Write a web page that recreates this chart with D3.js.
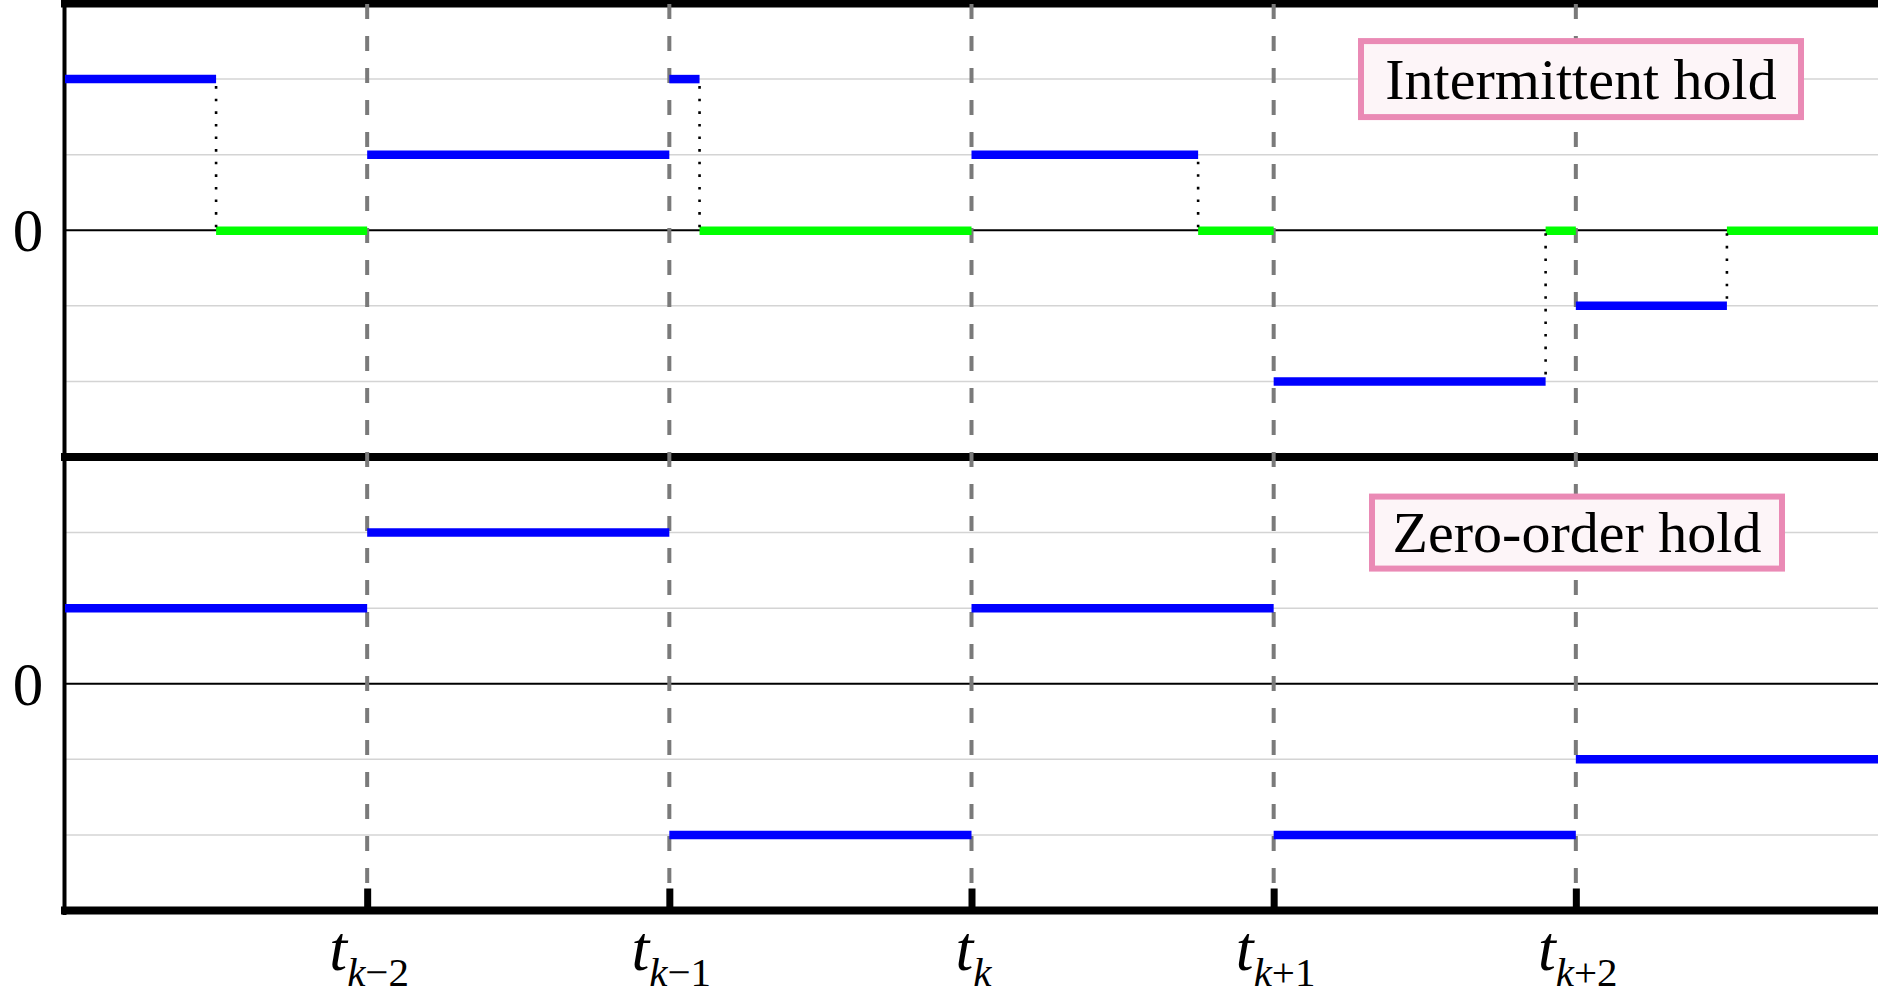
<!DOCTYPE html>
<html>
<head>
<meta charset="utf-8">
<script src="https://cdn.jsdelivr.net/npm/d3@7"></script>
<style>
  html, body { margin: 0; padding: 0; background: #fff; }
  svg { display: block; }
</style>
</head>
<body>
<svg id="chart" width="1890" height="1004"></svg>
<script>
// ---- data ----
const sampleTimes = [1, 2, 3, 4, 5];                 // t_{k-2} ... t_{k+2}
const tickSubs = ["k\u22122", "k\u22121", "k", "k+1", "k+2"];
const intervalStarts = [0, 1, 2, 3, 4, 5];
const zohValues = [1, 2, -2, 1, -2, -1];             // zero-order hold levels
const holdValues = [2, 1, 2, 1, -2, -1];             // intermittent hold levels
const holdDurations = [0.5, 1, 0.1, 0.75, 0.9, 0.5]; // fraction of period held
const gridLevels = [-2, -1, 1, 2];
const panelTitles = ["Intermittent hold", "Zero-order hold"];

// ---- layout ----
const svg = d3.select("#chart");
const x = d3.scaleLinear().domain([0, 6]).range([65, 1878]);
const yTop = d3.scaleLinear().domain([-3, 3]).range([457, 3.5]);
const yBot = d3.scaleLinear().domain([-3, 3]).range([910.5, 457]);
const serif = "'Liberation Serif', 'Times New Roman', serif";
const BLUE = "#0000ff", GREEN = "#00ff00";

function panelBase(y) {
  const g = svg.append("g");
  g.selectAll("line.grid").data(gridLevels).join("line")
    .attr("x1", x(0)).attr("x2", x(6))
    .attr("y1", d => y(d)).attr("y2", d => y(d))
    .attr("stroke", "#d4d4d4").attr("stroke-width", 1.5);
  g.append("line")
    .attr("x1", x(0)).attr("x2", x(6))
    .attr("y1", y(0)).attr("y2", y(0))
    .attr("stroke", "#000").attr("stroke-width", 1.8);
  g.append("text")
    .attr("x", 28).attr("y", y(0) + 21)
    .attr("text-anchor", "middle")
    .attr("font-family", serif).attr("font-size", 61)
    .text("0");
}
panelBase(yTop);
panelBase(yBot);

// frame lines
svg.append("line").attr("x1", 61).attr("x2", x(6)).attr("y1", yTop(3)).attr("y2", yTop(3))
  .attr("stroke", "#000").attr("stroke-width", 8);
svg.append("line").attr("x1", 61).attr("x2", x(6)).attr("y1", yTop(-3)).attr("y2", yTop(-3))
  .attr("stroke", "#000").attr("stroke-width", 8);
svg.append("line").attr("x1", x(0) - 0.5).attr("x2", x(0) - 0.5).attr("y1", 0).attr("y2", 915)
  .attr("stroke", "#000").attr("stroke-width", 4);

// dashed verticals
svg.selectAll("line.vdash").data(sampleTimes).join("line")
  .attr("x1", d => x(d)).attr("x2", d => x(d))
  .attr("y1", 4).attr("y2", yBot(-3))
  .attr("stroke", "#7a7a7a").attr("stroke-width", 4)
  .attr("stroke-dasharray", "15,17");

// bottom axis with inward ticks
const axis = d3.axisBottom(x).tickValues(sampleTimes).tickSizeInner(-22).tickSizeOuter(0).tickFormat("");
const ag = svg.append("g").attr("transform", `translate(0,${yBot(-3)})`).call(axis);
ag.select(".domain").remove();
ag.selectAll(".tick line").attr("stroke", "#000").attr("stroke-width", 7);
svg.append("line").attr("x1", 61).attr("x2", x(6)).attr("y1", yBot(-3)).attr("y2", yBot(-3))
  .attr("stroke", "#000").attr("stroke-width", 8);

// tick labels
const lab = svg.selectAll("text.tl").data(sampleTimes).join("text")
  .attr("x", d => x(d) + 2).attr("y", 970)
  .attr("text-anchor", "middle")
  .attr("font-family", serif);
lab.append("tspan").attr("font-size", 64).attr("font-style", "italic").text("t");
lab.append("tspan").attr("font-size", 41).attr("font-style", "italic").attr("dy", 16)
  .text((d, i) => tickSubs[i].charAt(0));
lab.append("tspan").attr("font-size", 41)
  .text((d, i) => tickSubs[i].slice(1));

// ---- zero-order hold (bottom) ----
svg.append("g").selectAll("line").data(intervalStarts).join("line")
  .attr("x1", d => x(d)).attr("x2", d => x(d + 1))
  .attr("y1", (d, i) => yBot(zohValues[i])).attr("y2", (d, i) => yBot(zohValues[i]))
  .attr("stroke", BLUE).attr("stroke-width", 8.5);

// ---- intermittent hold (top) ----
const hold = intervalStarts.map((s, i) => ({ s, e: s + holdDurations[i], v: holdValues[i], end: s + 1 }));
const tg = svg.append("g");
tg.selectAll("line.green").data(hold.filter(d => d.e < d.end)).join("line")
  .attr("x1", d => x(d.e)).attr("x2", d => x(d.end))
  .attr("y1", yTop(0) + 0.5).attr("y2", yTop(0) + 0.5)
  .attr("stroke", GREEN).attr("stroke-width", 8.5);
tg.selectAll("line.dot").data(hold.filter(d => d.e < d.end)).join("line")
  .attr("x1", d => x(d.e)).attr("x2", d => x(d.e))
  .attr("y1", d => yTop(d.v) + (d.v > 0 ? 7 : -7)).attr("y2", yTop(0))
  .attr("stroke", "#000").attr("stroke-width", 2.6)
  .attr("stroke-dasharray", "2.6,10");
tg.selectAll("line.blue").data(hold).join("line")
  .attr("x1", d => x(d.s)).attr("x2", d => x(d.e))
  .attr("y1", d => yTop(d.v)).attr("y2", d => yTop(d.v))
  .attr("stroke", BLUE).attr("stroke-width", 8.5);

// ---- title boxes ----
const boxes = [
  { t: panelTitles[0], cx: 1581, cy: yTop(2), w: 440, h: 76 },
  { t: panelTitles[1], cx: 1577, cy: yBot(2), w: 410, h: 72 }
];
boxes.forEach(b => {
  svg.append("rect")
    .attr("x", b.cx - b.w / 2).attr("y", b.cy - b.h / 2)
    .attr("width", b.w).attr("height", b.h)
    .attr("fill", "#fdf5f8").attr("stroke", "#ea8ab5").attr("stroke-width", 6);
  svg.append("text")
    .attr("x", b.cx).attr("y", b.cy + 19.5)
    .attr("text-anchor", "middle")
    .attr("font-family", serif).attr("font-size", 58)
    .text(b.t);
});
</script>
</body>
</html>
